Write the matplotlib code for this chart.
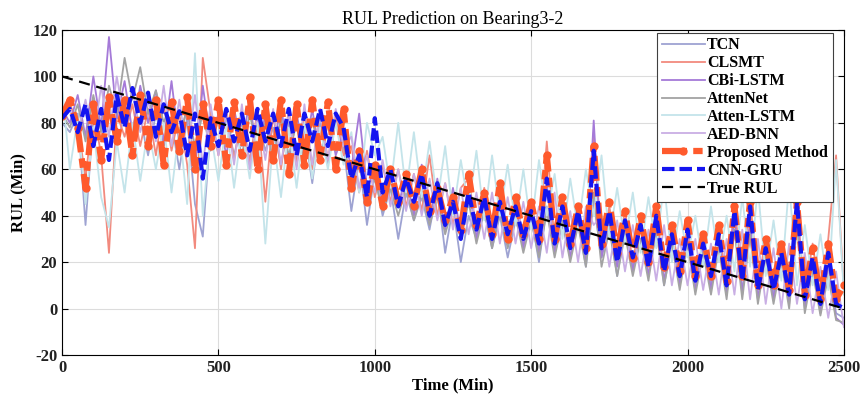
import numpy as np
import matplotlib
matplotlib.use("Agg")
import matplotlib.pyplot as plt

plt.rcParams['font.family'] = ['Liberation Serif', 'DejaVu Serif']
plt.rcParams['axes.unicode_minus'] = False

# time axis (Min), one sample every 25 min
time = np.arange(0, 2501, 25)

true_t = [0, 2500]
true_rul = [100, 0]

tcn = [80, 76, 84, 36, 82, 72, 86, 70, 84, 74, 82, 66, 84, 70, 80, 60, 82, 45, 31, 78,
       70, 82, 66, 80, 64, 82, 68, 78, 62, 80, 64, 78, 54, 80, 62, 82, 70, 42, 64, 36,
       58, 40, 52, 30, 50, 38, 48, 34, 52, 24, 44, 20, 40, 30, 42, 26, 40, 22, 38, 28,
       40, 20, 44, 24, 36, 22, 38, 18, 46, 22, 36, 14, 34, 18, 30, 14, 34, 10, 28, 12,
       30, 8, 26, 10, 28, 6, 34, 8, 32, 4, 24, 6, 26, 4, 40, 2, 20, 0, 18, -2, -4]

clsmt = [84, 88, 80, 56, 86, 66, 24, 84, 74, 88, 70, 86, 66, 88, 68, 84, 62, 26, 108, 84,
         66, 86, 64, 84, 62, 86, 46, 84, 60, 86, 62, 84, 60, 86, 64, 84, 66, 70, 50, 68,
         48, 62, 46, 60, 44, 58, 42, 66, 40, 54, 36, 52, 56, 34, 52, 30, 50, 32, 48, 30,
         46, 28, 72, 28, 46, 26, 44, 24, 76, 26, 44, 22, 42, 20, 40, 18, 42, 16, 36, 14,
         36, 12, 30, 14, 34, 12, 44, 14, 48, 10, 30, 10, 28, 8, 44, 6, 28, 4, 30, 66, 8]

cbi_lstm = [86, 80, 92, 74, 100, 78, 117, 82, 98, 76, 96, 80, 94, 72, 98, 70, 88, 60, 96, 72,
            84, 66, 86, 70, 90, 64, 84, 68, 88, 62, 84, 66, 86, 64, 84, 66, 76, 60, 84, 52,
            60, 46, 56, 44, 58, 40, 62, 38, 56, 34, 52, 32, 54, 30, 50, 28, 48, 28, 46, 26,
            44, 24, 54, 24, 42, 22, 40, 20, 81, 22, 40, 18, 38, 16, 36, 14, 38, 12, 32, 10,
            32, 8, 28, 8, 30, 6, 40, 6, 38, 4, 26, 4, 24, 2, 44, 0, 20, -2, 18, -4, -7]

attennet = [84, 78, 88, 72, 92, 76, 96, 84, 108, 90, 104, 84, 94, 80, 90, 74, 86, 70, 84, 68,
            82, 70, 80, 66, 84, 68, 80, 64, 82, 66, 80, 62, 82, 64, 80, 68, 72, 54, 62, 46,
            56, 42, 52, 40, 52, 38, 50, 36, 48, 32, 44, 30, 46, 28, 42, 26, 42, 26, 40, 24,
            38, 22, 42, 22, 38, 20, 36, 18, 50, 18, 34, 14, 32, 14, 30, 12, 34, 10, 28, 8,
            28, 6, 24, 6, 26, 4, 34, 4, 32, 2, 22, 2, 20, 0, 36, -2, 16, -3, 14, -5, -6]

atten_lstm = [95, 60, 82, 45, 78, 48, 35, 72, 50, 80, 55, 78, 60, 80, 50, 78, 45, 110, 40, 76,
              55, 80, 52, 78, 56, 80, 28, 74, 48, 78, 52, 80, 56, 78, 60, 80, 62, 76, 50, 80,
              66, 74, 52, 80, 50, 76, 48, 72, 46, 70, 40, 64, 44, 68, 38, 66, 40, 62, 36, 60,
              34, 64, 40, 58, 30, 56, 34, 60, 40, 66, 30, 52, 28, 50, 24, 48, 26, 54, 20, 42,
              22, 40, 18, 44, 20, 40, 16, 48, 18, 52, 14, 38, 12, 54, 10, 36, 10, 32, 8, 64, 6]

aed_bnn = [82, 86, 76, 90, 72, 96, 74, 100, 80, 94, 76, 90, 72, 96, 70, 90, 66, 92, 62, 88,
           66, 84, 62, 88, 60, 84, 64, 86, 62, 84, 60, 88, 62, 84, 64, 86, 70, 74, 52, 66,
           50, 64, 44, 60, 42, 58, 40, 56, 38, 54, 34, 52, 32, 50, 30, 50, 28, 48, 28, 46,
           26, 44, 24, 50, 22, 42, 20, 44, 36, 40, 18, 38, 16, 36, 14, 34, 12, 36, 10, 30,
           10, 30, 8, 28, 6, 30, 6, 34, 4, 30, 2, 26, 0, 28, 2, 24, -2, 18, -4, 16, -8]

proposed = [83, 90, 78, 52, 88, 64, 91, 72, 90, 66, 92, 70, 90, 62, 89, 68, 91, 60, 88, 70,
            90, 62, 89, 66, 91, 60, 88, 64, 90, 58, 88, 62, 90, 64, 89, 60, 86, 52, 68, 46,
            62, 44, 60, 46, 58, 44, 60, 42, 52, 38, 48, 34, 58, 36, 50, 32, 54, 30, 48, 32,
            46, 30, 66, 30, 48, 28, 44, 26, 70, 28, 46, 24, 42, 22, 40, 20, 44, 18, 36, 16,
            38, 14, 32, 14, 36, 12, 44, 14, 46, 10, 30, 10, 28, 8, 46, 6, 26, 4, 28, 4, 10]

cnn_gru = [82, 86, 76, 88, 70, 86, 64, 92, 78, 95, 80, 93, 74, 88, 76, 85, 66, 84, 56, 82,
           70, 86, 72, 84, 68, 86, 72, 84, 70, 86, 66, 84, 72, 86, 70, 84, 78, 56, 66, 48,
           82, 50, 60, 44, 56, 46, 58, 40, 54, 36, 46, 30, 50, 34, 48, 30, 46, 32, 44, 30,
           42, 28, 56, 28, 44, 26, 42, 24, 68, 26, 42, 20, 38, 22, 36, 18, 40, 16, 32, 14,
           34, 12, 28, 14, 32, 10, 42, 12, 44, 8, 26, 8, 24, 6, 46, 4, 22, 2, 24, 2, 0]

fig = plt.figure(figsize=(8.62, 4.0), dpi=100)
ax = fig.add_axes([0.072, 0.1125, 0.907, 0.8125])

ax.plot(time, tcn, color='#9ea3d2', lw=1.3, label='TCN')
ax.plot(time, clsmt, color='#f28a7e', lw=1.3, label='CLSMT')
ax.plot(time, cbi_lstm, color='#a57ad8', lw=1.3, label='CBi-LSTM')
ax.plot(time, attennet, color='#a3a3a3', lw=1.3, label='AttenNet')
ax.plot(time, atten_lstm, color='#c4e4ea', lw=1.3, label='Atten-LSTM')
ax.plot(time, aed_bnn, color='#c9aee4', lw=1.3, label='AED-BNN')
ax.plot(time, proposed, color='#ff5a2c', lw=4.5, ls='-.', dashes=(4, 1, 1.5, 1),
        marker='o', ms=5, label='Proposed Method')
ax.plot(time, cnn_gru, color='#1414f0', lw=3.0, ls='--', dashes=(3, 1.2), label='CNN-GRU')
ax.plot(true_t, true_rul, color='black', lw=1.6, ls='--', dashes=(5, 3), label='True RUL')

ax.set_xlim(0, 2500)
ax.set_ylim(-20, 120)
ax.set_xticks(np.arange(0, 2501, 500))
ax.set_yticks(np.arange(-20, 121, 20))
ax.grid(True, color='#dcdcdc', lw=0.8)
ax.tick_params(direction='in', top=True, right=True, labelsize=12, length=4,
               labelcolor='#222222')
for lab in ax.get_xticklabels() + ax.get_yticklabels():
    lab.set_fontweight('bold')

ax.set_xlabel('Time (Min)', fontsize=12, fontweight='bold', labelpad=1)
ax.set_ylabel('RUL (Min)', fontsize=12, fontweight='bold', labelpad=4)
ax.set_title('RUL Prediction on Bearing3-2', fontsize=13, pad=4)

leg = ax.legend(loc='upper right', bbox_to_anchor=(0.986, 0.992), borderaxespad=0,
                fancybox=False, framealpha=1, edgecolor='#404040', borderpad=0.3,
                labelspacing=0.12, handlelength=2.7, handletextpad=0.15,
                prop={'weight': 'bold', 'size': 11.5})
leg.get_frame().set_linewidth(0.8)

fig.savefig('out.png', dpi=100)
